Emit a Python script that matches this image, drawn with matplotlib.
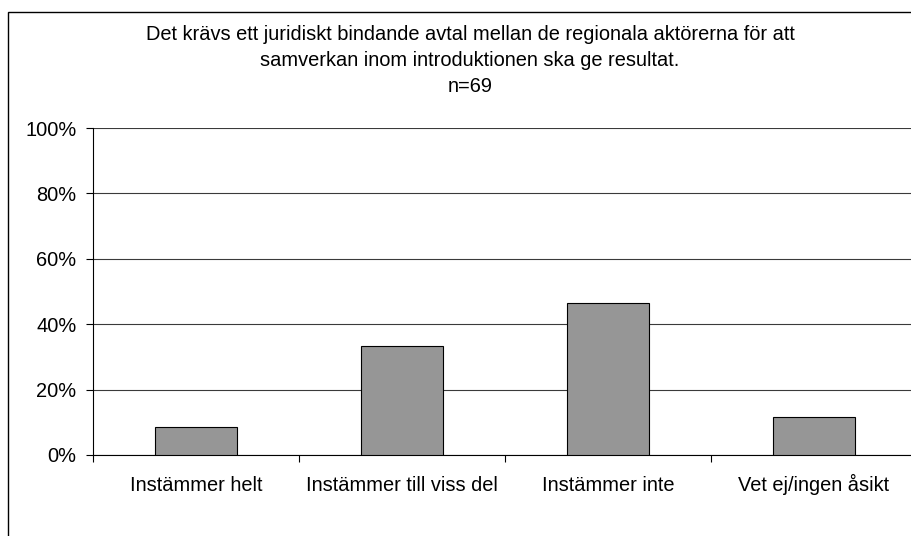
import matplotlib
matplotlib.use("Agg")
import matplotlib.pyplot as plt
from matplotlib.patches import Rectangle

categories = ["Instämmer helt", "Instämmer till viss del", "Instämmer inte", "Vet ej/ingen åsikt"]
values = [8.7, 33.3, 46.4, 11.6]
yticks = [0, 20, 40, 60, 80, 100]
title_lines = ["Det krävs ett juridiskt bindande avtal mellan de regionala aktörerna för att",
               "samverkan inom introduktionen ska ge resultat.",
               "n=69"]

plt.rcParams['font.family'] = ['Liberation Sans', 'DejaVu Sans']
FS = 14.4

W, H = 912, 536
fig = plt.figure(figsize=(W/100, H/100), dpi=100)
fig.patch.set_facecolor('white')

# outer frame (only left & top visible)
fig.patches.append(Rectangle((8/W, -0.2), 1.5, (H-12)/H + 0.2, transform=fig.transFigure,
                             fill=False, ec='black', lw=1.0))

ax = fig.add_axes([93/W, (H-455)/H, (917-93)/W, (455-128)/H])
x = range(len(categories))
ax.bar(x, values, width=0.40, color='#969696', edgecolor='black', linewidth=0.8, zorder=3)
ax.set_xlim(-0.5, len(categories)-0.5)
ax.set_ylim(0, 100)
ax.set_yticks(yticks)
ax.set_yticklabels([f"{v}%" for v in yticks], fontsize=FS)
ax.yaxis.grid(True, color='#3a3a3a', linewidth=0.8, zorder=0)
ax.set_xticks([i - 0.5 for i in range(len(categories)+1)])
ax.set_xticklabels([])
ax.set_xticks(list(x), minor=True)
ax.set_xticklabels(categories, minor=True, fontsize=FS)
for lbl in ax.get_xticklabels(minor=True):
    lbl.set_verticalalignment('baseline')
ax.tick_params(axis='x', which='minor', length=0, pad=26)
ax.tick_params(axis='x', which='major', length=5, direction='out', width=0.8)
ax.tick_params(axis='y', length=5, direction='out', width=0.8, pad=7)
for s in ['top', 'right']:
    ax.spines[s].set_visible(False)
ax.spines['left'].set_linewidth(0.8)
ax.spines['bottom'].set_linewidth(0.8)

for i, line in enumerate(title_lines):
    yc = [35, 61, 87][i]
    fig.text(470/W, 1 - yc/H, line, ha='center', va='center', fontsize=FS)

fig.savefig("out.png", dpi=100)
